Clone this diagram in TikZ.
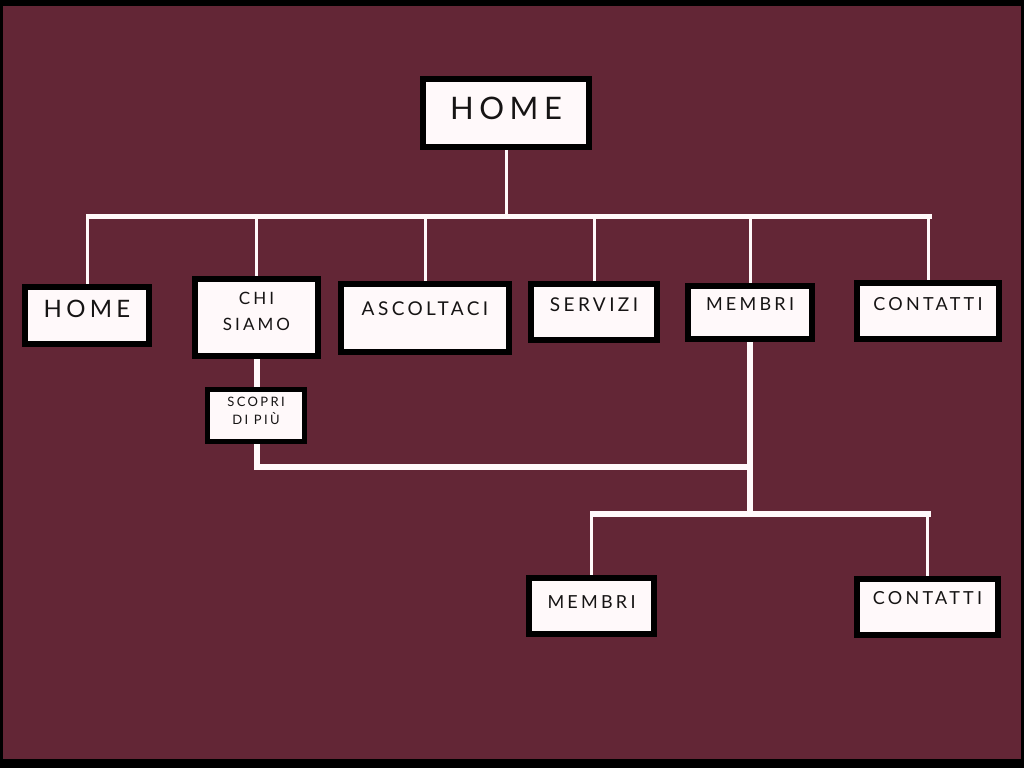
\documentclass[tikz,border=0pt]{standalone}
\usepackage{fontspec}
\setmainfont{Lato}
\newfontfamily\wide[LetterSpace=18]{Lato}
\usetikzlibrary{positioning}
\definecolor{wine}{RGB}{99,38,54}
\definecolor{paper}{RGB}{255,249,250}
\definecolor{ink}{RGB}{22,20,20}
\pgfdeclarelayer{back}
\pgfsetlayers{back,main}

\begin{document}
\begin{tikzpicture}[x=1pt,y=-1pt,
        menu/.style={rectangle, draw=black, line width=6pt, fill=paper, inner sep=0pt},
        lbl/.style={text=ink, align=center, inner sep=0pt},
        link/.style={draw=paper, line width=3pt},
        bar/.style={draw=paper, line width=5pt},
        trunk/.style={draw=paper, line width=6pt}
    ]
        % top level
        \node[menu, minimum width=166pt, minimum height=68pt, label={[lbl, yshift=5pt, font=\wide\fontsize{31}{34}\selectfont]center:HOME}] (home) at (506,113) {};

        % second level
        \node[menu, minimum width=124pt, minimum height=57pt, label={[lbl, yshift=6.5pt, font=\wide\fontsize{24}{28}\selectfont]center:HOME}] (home2) at (87,315.5) {};
        \node[menu, minimum width=123pt, minimum height=77pt, label={[lbl, yshift=6.5pt, font=\wide\fontsize{17}{26}\selectfont]center:{CHI\\SIAMO}}] (chi) at (256.5,317.5) {};
        \node[menu, minimum width=168pt, minimum height=68pt, label={[lbl, yshift=9pt, font=\wide\fontsize{19}{22}\selectfont]center:ASCOLTACI}] (ascolta) at (425,318) {};
        \node[menu, minimum width=126pt, minimum height=56pt, label={[lbl, yshift=7pt, font=\wide\fontsize{19}{22}\selectfont]center:SERVIZI}] (servizi) at (594,312) {};
        \node[menu, minimum width=124pt, minimum height=53pt, label={[lbl, yshift=8.5pt, font=\wide\fontsize{18}{22}\selectfont]center:MEMBRI}] (membri) at (750,312.5) {};
        \node[menu, minimum width=142pt, minimum height=56pt, label={[lbl, yshift=7pt, font=\wide\fontsize{18}{22}\selectfont]center:CONTATTI}] (contatti) at (928,311) {};

        % third level
        \node[menu, line width=5pt, minimum width=97pt, minimum height=52pt, label={[lbl, yshift=4.5pt, font=\wide\fontsize{13}{18}\selectfont]center:{SCOPRI\\DI PIÙ}}] (scopri) at (256,415.5) {};
        \node[menu, minimum width=125pt, minimum height=56pt, label={[lbl, yshift=4pt, font=\wide\fontsize{18}{22}\selectfont]center:MEMBRI}] (membri2) at (591.5,606) {};
        \node[menu, minimum width=141pt, minimum height=56pt, label={[lbl, yshift=9pt, font=\wide\fontsize{18}{22}\selectfont]center:CONTATTI}] (contatti2) at (927.5,607) {};

        \coordinate (barL) at (86,216);
        \coordinate (barR) at (932,216);
        \coordinate (elbow) at (256.5,467);
        \coordinate (split) at (750,514);
        \coordinate (subL) at (590,514);
        \coordinate (subR) at (931,514);

        \begin{pgfonlayer}{back}
            \fill[black] (0,0) rectangle (1024,768);
            \fill[wine] (3,6) rectangle (1021,759);

            \draw[link] (home) -- (home |- barL);
            \draw[bar] (barL) -- (barR);
            \foreach \n in {home2,chi,ascolta,servizi,membri,contatti}
                \draw[link] (\n |- barL) -- (\n);

            \draw[trunk] (chi) |- (membri |- elbow);
            \draw[trunk] (membri) -- (split);
            \draw[trunk] (subL) -- (subR);
            \draw[link] (membri2 |- subL) -- (membri2);
            \draw[link] (contatti2 |- subL) -- (contatti2);
        \end{pgfonlayer}
    \end{tikzpicture}
\end{document}
